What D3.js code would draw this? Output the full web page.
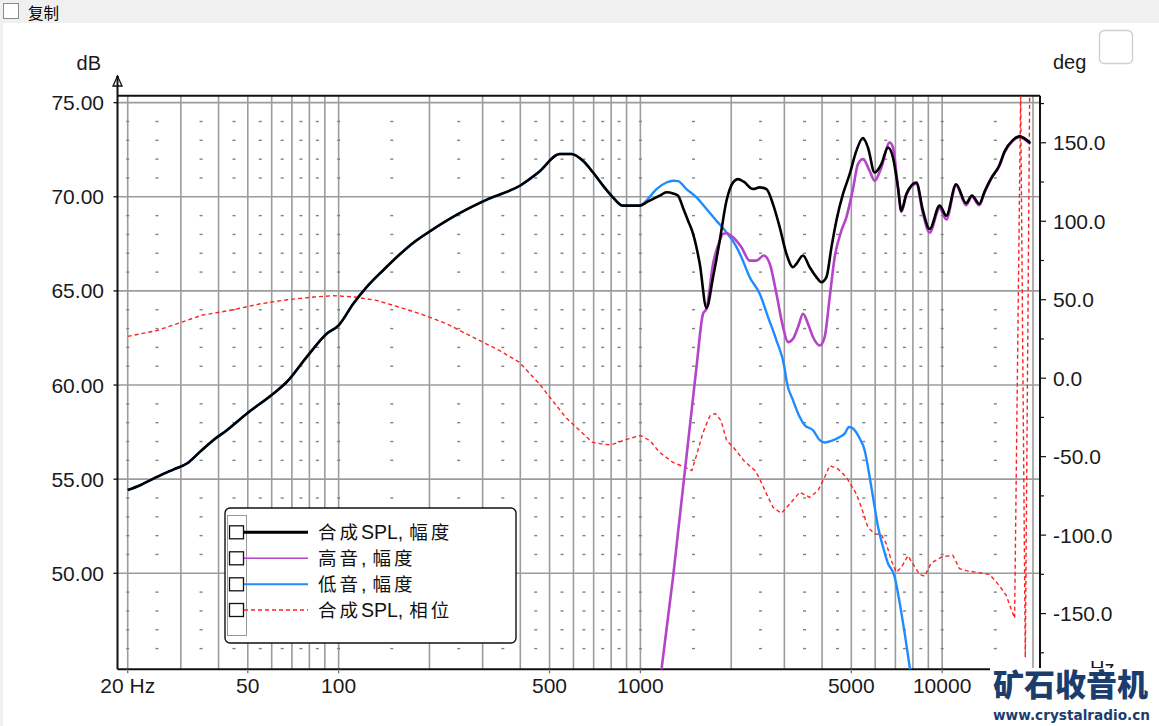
<!DOCTYPE html>
<html><head><meta charset="utf-8">
<script src="https://cdn.jsdelivr.net/npm/d3@7"></script>
<style>body{margin:0;background:#fff;overflow:hidden}svg{display:block}</style>
</head><body>
<svg id="c" width="1159" height="726"></svg>
<script>
// ---------------- data ----------------
const freqTicks = [20, 50, 100, 500, 1000, 5000, 10000];
const freqTickLabels = ["20 Hz", "50", "100", "500", "1000", "5000", "10000"];
const dbTicks = [50, 55, 60, 65, 70, 75];
const degTicks = [-150, -100, -50, 0, 50, 100, 150];
const gridFreqs = [20,30,40,50,60,70,80,90,100,200,300,400,500,600,700,800,900,1000,2000,3000,4000,5000,6000,7000,8000,9000,10000,20000];
const dotFreqs = [20,25,35,45,55,65,75,85,100,150,250,350,450,550,650,750,850,1000,1500,2500,3500,4500,5500,6500,7500,8500,10000,15000];

const splFreq = [20,22,25,28.3,31.4,34.7,38.4,42.6,49.6,60.7,67.3,78.3,91.3,100,111.8,123.8,140.5,159.6,180,200,250,315,400,460,541,591,645,697,752,811,874,995,1047,1074,1160,1220,1283,1333,1385,1439,1495,1573,1656,1741,1832,1929,2028,2107,2200,2362,2486,2617,2752,2896,3048,3205,3289,3459,3640,3831,3980,4135,4295,4461,4693,4938,5196,5465,5676,5974,6289,6614,6871,7138,7326,7610,8213,8639,9090,9811,10321,11125,12000,12550,13280,13810,14530,15490,16090,17150,18050,18750,19600];
const splDb = [54.42,54.68,55.12,55.51,55.83,56.45,57.07,57.6,58.48,59.54,60.16,61.48,62.73,63.17,64.32,65.2,66.1,66.95,67.65,68.15,69.1,69.9,70.6,71.3,72.27,72.27,71.91,71.29,70.59,69.97,69.53,69.53,69.7,69.8,70.06,70.24,70.18,70.06,69.41,68.73,68.03,66.44,64.1,65.73,67.67,69.79,70.76,70.94,70.8,70.41,70.5,70.41,69.6,68.38,66.97,66.26,66.44,66.88,66.26,65.73,65.46,65.73,67.3,68.73,70.15,71.2,72.44,73.12,72.62,71.29,71.74,72.62,72.09,70.5,69.26,70.15,70.76,69.26,68.29,69.53,69.0,70.67,69.66,70.07,69.62,70.27,70.98,71.69,72.4,73.01,73.21,73.1,72.85];

const tweeterFreq = [1120,1175,1283,1534,1613,1656,1741,1832,1879,1929,2028,2162,2303,2424,2563,2684,2824,2970,3085,3205,3330,3459,3593,3733,3929,4080,4240,4404,4636,4815,5064,5260,5465,5751,5974,6289,6701,6871,7138,7326,7610,8213,8639,9090,9811,10321,11125,12000,12550,13280,13810,14530,15490,16090,17150,18050,18750,19600];
const tweeterDb = [42.5,44.9,49.8,60.95,63.79,64.05,66.44,67.67,68.03,68.06,67.85,67.32,66.61,66.61,66.88,66.44,64.85,63.08,62.28,62.46,63.08,63.79,63.26,62.55,62.1,62.55,64.67,66.79,68.2,68.91,70.41,71.74,72.0,71.38,70.85,71.56,72.88,72.62,70.5,69.2,70.1,70.7,69.1,68.1,69.4,68.8,70.6,69.55,70.0,69.55,70.2,70.95,71.65,72.35,72.98,73.18,73.05,72.8];

const wooferFreq = [20,22,25,28.3,31.4,34.7,38.4,42.6,49.6,60.7,67.3,78.3,91.3,100,111.8,123.8,140.5,159.6,180,200,250,315,400,460,541,591,645,697,752,811,874,995,1047,1131,1220,1283,1333,1421,1534,1656,1787,1929,2054,2162,2303,2486,2649,2824,3008,3048,3205,3373,3504,3733,3929,4080,4295,4576,4754,4912,5064,5330,5535,5676,5825,5974,6130,6367,6614,6961,7138,7512,7803,8000];
const wooferDb = [54.42,54.68,55.12,55.51,55.83,56.45,57.07,57.6,58.48,59.54,60.16,61.48,62.73,63.17,64.32,65.2,66.1,66.95,67.65,68.15,69.1,69.9,70.6,71.3,72.27,72.27,71.91,71.29,70.59,69.97,69.53,69.53,69.8,70.41,70.76,70.85,70.83,70.41,69.97,69.35,68.73,68.11,67.5,66.79,65.73,64.85,63.61,62.37,60.87,60.25,59.19,58.3,57.86,57.6,57.07,56.95,57.03,57.24,57.42,57.77,57.69,57.16,56.54,55.65,54.59,53.53,52.47,51.41,50.53,49.82,48.94,46.82,45.05,43.8];

const phaseFreq = [20,25,29.6,35,44.8,55,67.6,82.6,96.5,112.8,133.5,151.8,186.7,228,278.6,340.8,396.7,462.5,565,692,750,800,900,1000,1074,1160,1283,1385,1480,1530,1610,1700,1770,1850,1930,2050,2200,2400,2486,2617,2752,2930,3125,3373,3640,3878,4080,4240,4517,4815,5196,5398,5676,5974,6289,6534,6787,7051,7326,7703,8003,8423,8750,9209,9938,10850,11410,12000,13110,14350,15490,16300,17380,18200,18860,19500];
const phaseDeg = [26.6,30.4,35.1,40.0,43.6,47.4,50.0,51.7,52.6,51.7,49.6,46.4,41.0,34.7,26.1,17.7,10.2,-3.6,-24.9,-40.8,-42,-42.5,-39,-36.5,-39.7,-47.4,-53.7,-56.3,-58.9,-50,-35,-24,-22.5,-27,-39.7,-44.8,-52.5,-58.9,-64.2,-73.7,-82.3,-86.1,-80.1,-72.7,-75.9,-71.6,-63.1,-55.7,-57.8,-63.1,-73.7,-82.3,-95.0,-99.2,-99.7,-105.6,-116.3,-123.7,-120.5,-113.1,-118.4,-125,-126.2,-117.7,-114,-112.8,-121.3,-122.6,-123.8,-125,-132.3,-138.4,-153,179.5,-178,179.5];

const legendParts = [["合成","SPL,","幅度"],["高音",",","幅度"],["低音",",","幅度"],["合成","SPL,","相位"]];
const seriesColors = ["#000000", "#b444c8", "#1e8cff", "#ff2020"];

// ---------------- layout ----------------
const svg = d3.select("#c");
const L = 117.5, R = 1040, T = 95.7, B = 669.3;
const x = d3.scaleLog().domain([18.5, 21100]).range([L, R]);
const y = d3.scaleLinear().domain([44.9, 75.37]).range([B, T]);
const yDeg = d3.scaleLinear().domain([-185.5, 180]).range([B, T]);
const FONT = "'Liberation Sans', Arial, sans-serif";
const CJK = "'Noto Sans CJK SC', sans-serif";

// window chrome
svg.append("rect").attr("x",0).attr("y",0).attr("width",1159).attr("height",726).attr("fill","#fff");
svg.append("rect").attr("x",0).attr("y",0).attr("width",1159).attr("height",23).attr("fill","#f0f0f0");
svg.append("rect").attr("x",0).attr("y",23).attr("width",3).attr("height",703).attr("fill","#f0f0f0");
svg.append("rect").attr("x",3.5).attr("y",3.5).attr("width",15).attr("height",15).attr("fill","#fff").attr("stroke","#8a8a8a");
svg.append("text").attr("x",28).attr("y",19).attr("font-family",CJK).attr("font-size",15.5).attr("fill","#000").text("复制");
svg.append("rect").attr("x",1099.5).attr("y",30.5).attr("width",33).attr("height",33).attr("rx",5).attr("fill","#fff").attr("stroke","#cfcfcf").attr("stroke-width",1.3);

// grid
const g = svg.append("g");
g.selectAll("line.vg").data(gridFreqs).join("line")
  .attr("x1",d=>x(d)).attr("x2",d=>x(d)).attr("y1",T).attr("y2",B)
  .attr("stroke","#9c9c9c").attr("stroke-width",1.6);
g.selectAll("line.hg").data(dbTicks).join("line")
  .attr("x1",L).attr("x2",R).attr("y1",d=>y(d)).attr("y2",d=>y(d))
  .attr("stroke","#9c9c9c").attr("stroke-width",1.6);
const minorDb = d3.range(46,75).filter(v=>v%5!==0);
const dots = [];
dotFreqs.forEach(f=>minorDb.forEach(v=>dots.push([f,v])));
g.selectAll("line.dt").data(dots).join("line")
  .attr("x1",d=>x(d[0])-1.5).attr("x2",d=>x(d[0])+1.5).attr("y1",d=>y(d[1])).attr("y2",d=>y(d[1]))
  .attr("stroke","#808080").attr("stroke-width",1.4);

// frame
const frame = svg.append("g").attr("stroke","#111").attr("stroke-width",2).attr("fill","none");
frame.append("line").attr("x1",L).attr("x2",R).attr("y1",T).attr("y2",T);
frame.append("line").attr("x1",L).attr("x2",R).attr("y1",B).attr("y2",B);
frame.append("line").attr("x1",R).attr("x2",R).attr("y1",T).attr("y2",B);
frame.append("line").attr("x1",L).attr("x2",L).attr("y1",78).attr("y2",B);
svg.append("path").attr("d",`M${L},76 L${L-4.5},86 L${L+4.5},86 Z`).attr("fill","none").attr("stroke","#111").attr("stroke-width",1.3);
svg.append("circle").attr("cx",L).attr("cy",77).attr("r",1.5).attr("fill","#111");

// left axis
svg.selectAll("line.lt").data(dbTicks).join("line")
  .attr("x1",L-4).attr("x2",L).attr("y1",d=>y(d)).attr("y2",d=>y(d)).attr("stroke","#111").attr("stroke-width",1.3);
svg.selectAll("text.lt").data(dbTicks).join("text")
  .attr("x",104).attr("y",d=>y(d)+7.5).attr("text-anchor","end")
  .attr("font-family",FONT).attr("font-size",21).attr("fill","#1a1a1a").text(d=>d.toFixed(2));
svg.append("text").attr("x",101).attr("y",70).attr("text-anchor","end").attr("font-family",FONT).attr("font-size",20).attr("fill","#1a1a1a").text("dB");

// right axis
const degMinor = d3.range(-175,180,25);
svg.selectAll("line.rt").data(degMinor).join("line")
  .attr("x1",R).attr("x2",d=>R+(d%50===0?6:4)).attr("y1",d=>yDeg(d)).attr("y2",d=>yDeg(d)).attr("stroke","#111").attr("stroke-width",1.2);
svg.selectAll("text.rt").data(degTicks).join("text")
  .attr("x",1053).attr("y",d=>yDeg(d)+7.5)
  .attr("font-family",FONT).attr("font-size",21).attr("fill","#1a1a1a").text(d=>d.toFixed(1));
svg.append("text").attr("x",1053).attr("y",69).attr("font-family",FONT).attr("font-size",20).attr("fill","#1a1a1a").text("deg");

// bottom axis
svg.selectAll("line.bt").data(freqTicks).join("line")
  .attr("x1",d=>x(d)).attr("x2",d=>x(d)).attr("y1",B).attr("y2",B+4).attr("stroke","#777").attr("stroke-width",1.3);
svg.selectAll("text.bt").data(freqTicks).join("text")
  .attr("x",d=>x(d)).attr("y",693).attr("text-anchor","middle")
  .attr("font-family",FONT).attr("font-size",21).attr("fill","#1a1a1a").text((d,i)=>freqTickLabels[i]);

// curves
svg.append("clipPath").attr("id","clip").append("rect").attr("x",L).attr("y",T).attr("width",R-L).attr("height",B-T);
const curves = svg.append("g").attr("clip-path","url(#clip)");
const lineDb = d3.line().x(d=>x(d[0])).y(d=>y(d[1])).curve(d3.curveMonotoneX);
const lineDeg = d3.line().x(d=>x(d[0])).y(d=>yDeg(d[1]));
curves.append("path").datum(phaseFreq.map((f,i)=>[f,phaseDeg[i]])).attr("d",lineDeg)
  .attr("fill","none").attr("stroke",seriesColors[3]).attr("stroke-width",1.4).attr("stroke-dasharray","4,3");
curves.append("path").datum(wooferFreq.map((f,i)=>[f,wooferDb[i]])).attr("d",lineDb)
  .attr("fill","none").attr("stroke",seriesColors[2]).attr("stroke-width",2.4).attr("stroke-linejoin","round");
curves.append("path").datum(tweeterFreq.map((f,i)=>[f,tweeterDb[i]])).attr("d",lineDb)
  .attr("fill","none").attr("stroke",seriesColors[1]).attr("stroke-width",2.6).attr("stroke-linejoin","round");
curves.append("path").datum(splFreq.map((f,i)=>[f,splDb[i]])).attr("d",lineDb)
  .attr("fill","none").attr("stroke",seriesColors[0]).attr("stroke-width",2.6).attr("stroke-linejoin","round");

// legend
const lg = svg.append("g");
lg.append("rect").attr("x",225).attr("y",508).attr("width",291).attr("height",135).attr("rx",5)
  .attr("fill","#fff").attr("stroke","#111").attr("stroke-width",1.4);
lg.append("rect").attr("x",227.5).attr("y",515.5).attr("width",19).attr("height",120)
  .attr("fill","none").attr("stroke","#333").attr("stroke-width",1).attr("stroke-dasharray","1,1");
const rowsY = [532.3, 558.3, 584.3, 610];
const widths = [3, 1.6, 2, 1.4];
legendParts.forEach((parts,i)=>{
  const ry = rowsY[i];
  lg.append("rect").attr("x",229.5).attr("y",ry-6.5).attr("width",14).attr("height",13).attr("fill","#fff").attr("stroke","#111").attr("stroke-width",1.3);
  lg.append("line").attr("x1",244).attr("x2",308).attr("y1",ry).attr("y2",ry)
    .attr("stroke",seriesColors[i]).attr("stroke-width",widths[i]).attr("stroke-dasharray",i===3?"4,3":null);
  const t = lg.append("text").attr("x",318).attr("y",ry+7).attr("font-family",CJK).attr("font-size",18.5).attr("fill","#111");
  t.append("tspan").attr("letter-spacing",3).text(parts[0]);
  t.append("tspan").attr("font-family",FONT).attr("font-size",19.5).text(parts[1]);
  t.append("tspan").attr("dx",6).attr("letter-spacing",3).text(parts[2]);
});

// Hz + watermark
svg.append("text").attr("x",1090).attr("y",675).attr("font-family",FONT).attr("font-size",20).attr("fill","#1a1a1a").text("Hz");
svg.append("rect").attr("x",990).attr("y",668).attr("width",169).attr("height",58).attr("fill","#fff");
svg.append("text").attr("x",993).attr("y",696).attr("font-family",CJK).attr("font-weight",900).attr("font-size",31)
  .attr("textLength",155).attr("lengthAdjust","spacingAndGlyphs").attr("fill","#1b3d6e").text("矿石收音机");
svg.append("text").attr("x",993).attr("y",720).attr("font-family","'DejaVu Sans', sans-serif").attr("font-weight","bold").attr("font-size",14)
  .attr("textLength",157).attr("lengthAdjust","spacingAndGlyphs").attr("fill","#1b3d6e").text("www.crystalradio.cn");
</script>
</body></html>
